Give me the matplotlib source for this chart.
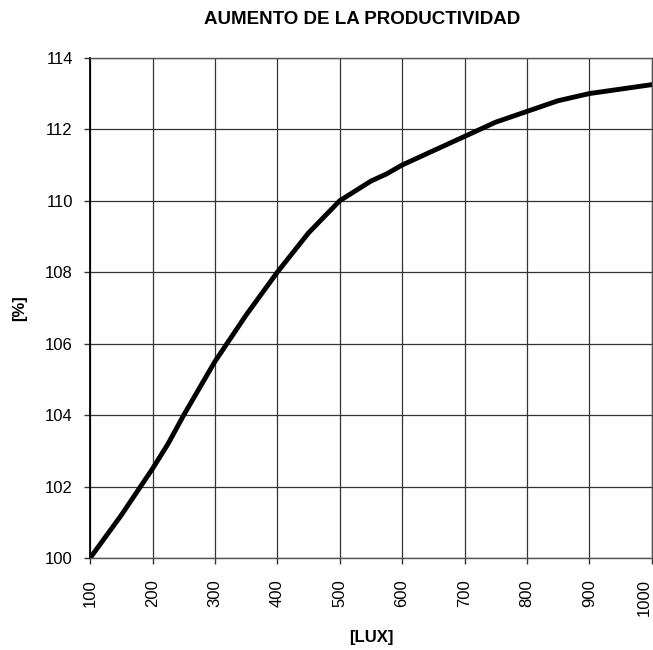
import numpy as np
import matplotlib.pyplot as plt

plt.rcParams['font.family'] = ['Liberation Sans', 'DejaVu Sans']

lux = [100, 150, 200, 225, 250, 300, 350, 400, 450, 500, 550, 575,
       600, 650, 700, 750, 800, 850, 900, 1000]
productividad = [100.0, 101.2, 102.5, 103.2, 104.0, 105.5, 106.8, 108.0,
                 109.1, 110.0, 110.55, 110.75, 111.0, 111.4, 111.8, 112.2,
                 112.5, 112.8, 113.0, 113.25]

x_ticks = [100, 200, 300, 400, 500, 600, 700, 800, 900, 1000]
y_ticks = [100, 102, 104, 106, 108, 110, 112, 114]

fig = plt.figure(figsize=(6.53, 6.5), dpi=100)
ax = fig.add_axes([0.138, 0.1415, 0.86, 0.7695])

ax.plot(lux, productividad, color="black", lw=3.5, solid_capstyle="round")

ax.set_xlim(100, 1000)
ax.set_ylim(100, 114)
ax.set_xticks(x_ticks)
ax.set_yticks(y_ticks)
ax.set_xticklabels([str(v) for v in x_ticks], rotation=90, fontsize=12)
ax.set_yticklabels([str(v) for v in y_ticks], fontsize=12)
ax.get_xticklabels()[-1].set_ha("right")
ax.tick_params(direction="out", length=4, width=1, color="#333333")
ax.tick_params(axis="x", pad=11)
ax.tick_params(axis="y", pad=8.5)

ax.grid(True, color="#333333", lw=0.9)
for s in ax.spines.values():
    s.set_color("#555555")
    s.set_linewidth(1)
ax.spines["left"].set_color("black")
ax.spines["left"].set_linewidth(1.3)

ax.set_xlabel("[LUX]", fontsize=12, fontweight="bold", va="center")
ax.xaxis.set_label_coords(0.5, -0.158)
ax.set_ylabel("[%]", fontsize=12, fontweight="bold", va="center")
ax.yaxis.set_label_coords(-0.125, 0.5)
fig.text(0.555, 0.97, "AUMENTO DE LA PRODUCTIVIDAD", ha="center", va="center",
         fontsize=13.5, fontweight="bold")

fig.savefig("out.png", dpi=100)
